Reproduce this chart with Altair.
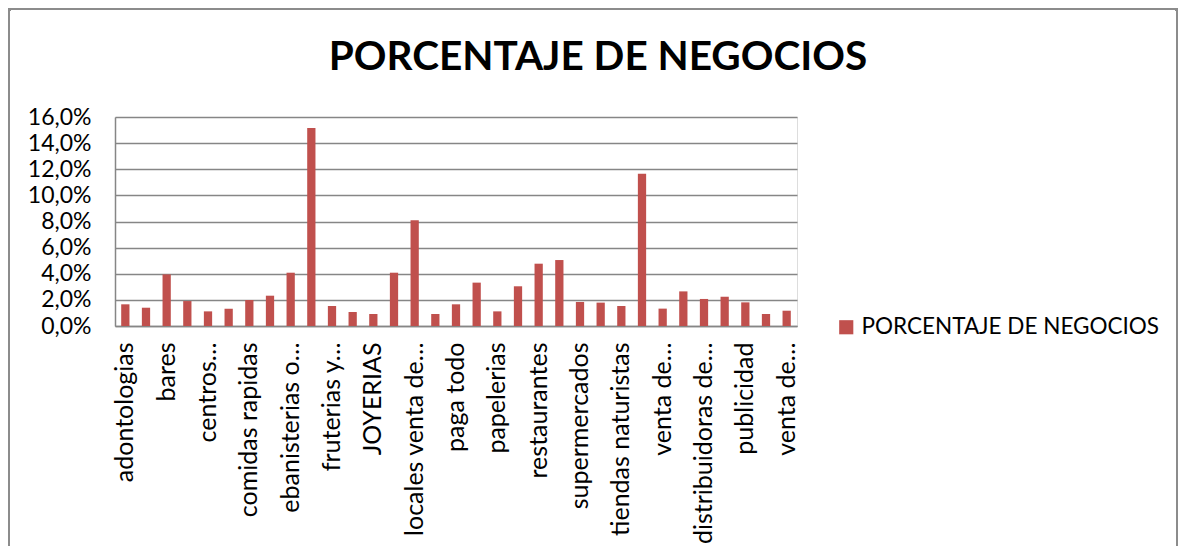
import json
import altair as alt
import pandas as pd

# Categories (hidden-label categories between the visible ones)
categories = [
    "adontologias", "almacenes", "bares", "cafeterias", "centros de estetica",
    "cigarrerias", "comidas rapidas", "droguerias", "ebanisterias o carpinterias",
    "ferreterias", "fruterias y verdulerias", "heladerias", "JOYERIAS", "lavanderias",
    "locales venta de ropa", "miscelaneas", "paga todo", "panaderias", "papelerias",
    "peluquerias", "restaurantes", "salsamentarias", "supermercados", "talleres",
    "tiendas naturistas", "tiendas de barrio", "venta de celulares", "zapaterias",
    "distribuidoras de licores", "parqueaderos", "publicidad", "servicios",
    "venta de repuestos",
]

# Labels that are shown on the axis ('' = not shown)
tick_labels = [
    "adontologias", "", "bares", "", "centros…", "", "comidas rapidas", "",
    "ebanisterias o…", "", "fruterias y…", "", "JOYERIAS", "", "locales venta de…",
    "", "paga todo", "", "papelerias", "", "restaurantes", "", "supermercados", "",
    "tiendas naturistas", "", "venta de…", "", "distribuidoras de…", "", "publicidad",
    "", "venta de…",
]

# Percentage values (fraction)
values = [
    0.0166, 0.0140, 0.0395, 0.0191, 0.0112, 0.0133, 0.0199, 0.0232, 0.0408,
    0.1515, 0.0153, 0.0107, 0.0092, 0.0408, 0.0809, 0.0092, 0.0166, 0.0332,
    0.0112, 0.0304, 0.0477, 0.0505, 0.0184, 0.0179, 0.0153, 0.1166, 0.0133,
    0.0265, 0.0207, 0.0224, 0.0181, 0.0092, 0.0117,
]

series_name = "PORCENTAJE DE NEGOCIOS"

df = pd.DataFrame({"categoria": categories, "valor": values, "serie": series_name})

FONT = "Lato"
GRID = "#868686"

label_expr = f"{json.dumps(tick_labels, ensure_ascii=False)}[indexof({json.dumps(categories, ensure_ascii=False)}, datum.value)]"

bars = alt.Chart(df).mark_bar(color="#C0504D").encode(
    x=alt.X(
        "categoria:N",
        sort=categories,
        scale=alt.Scale(paddingInner=0.6, paddingOuter=0.3),
        axis=alt.Axis(
            title=None,
            labelAngle=-90,
            labelExpr=label_expr,
            labelFont=FONT,
            labelFontSize=25,
            labelColor="#000000",
            labelPadding=16,
            ticks=False,
            domainColor=GRID,
            domainWidth=1.5,
            labelLimit=300,
            labelOverlap=False,
        ),
    ),
    y=alt.Y(
        "valor:Q",
        scale=alt.Scale(domain=[0, 0.16], nice=False),
        axis=alt.Axis(
            title=None,
            values=[0, 0.02, 0.04, 0.06, 0.08, 0.10, 0.12, 0.14, 0.16],
            labelExpr="replace(format(datum.value, '.1%'), '.', ',')",
            labelFont=FONT,
            labelFontSize=23,
            labelColor="#000000",
            labelPadding=24,
            ticks=False,
            domainColor=GRID,
            domainWidth=1.5,
            gridColor=GRID,
            gridWidth=1.5,
            gridOpacity=1,
        ),
    ),
    color=alt.Color(
        "serie:N",
        scale=alt.Scale(range=["#C0504D"]),
        legend=alt.Legend(
            title=None,
            orient="none",
            legendX=720,
            legendY=199,
            symbolType="square",
            symbolSize=200,
            symbolStrokeWidth=0,
            labelFont=FONT,
            labelFontSize=22.5,
            labelColor="#000000",
            labelLimit=400,
            padding=0,
        ),
    ),
)

frame = alt.Chart(df).mark_rect(
    fill=None, stroke="#8C8C8C", strokeWidth=2, cornerRadius=2
).encode(
    x=alt.value(-106), x2=alt.value(1062), y=alt.value(-108), y2=alt.value(460)
)

chart = alt.layer(frame, bars).properties(
    width=682,
    height=209,
    title=alt.Title(
        series_name,
        font=FONT,
        fontSize=40.5,
        fontWeight="bold",
        color="#000000",
        anchor="middle",
        baseline="alphabetic",
        offset=0,
        dy=102,
        dx=142,
    ),
    autosize=alt.AutoSizeParams(type="none"),
    padding={"left": 107, "top": 109, "right": 382, "bottom": 220},
).configure_view(stroke=None).configure(background="white")

chart.save("out.html", embed_options={"renderer": "svg", "actions": False})
